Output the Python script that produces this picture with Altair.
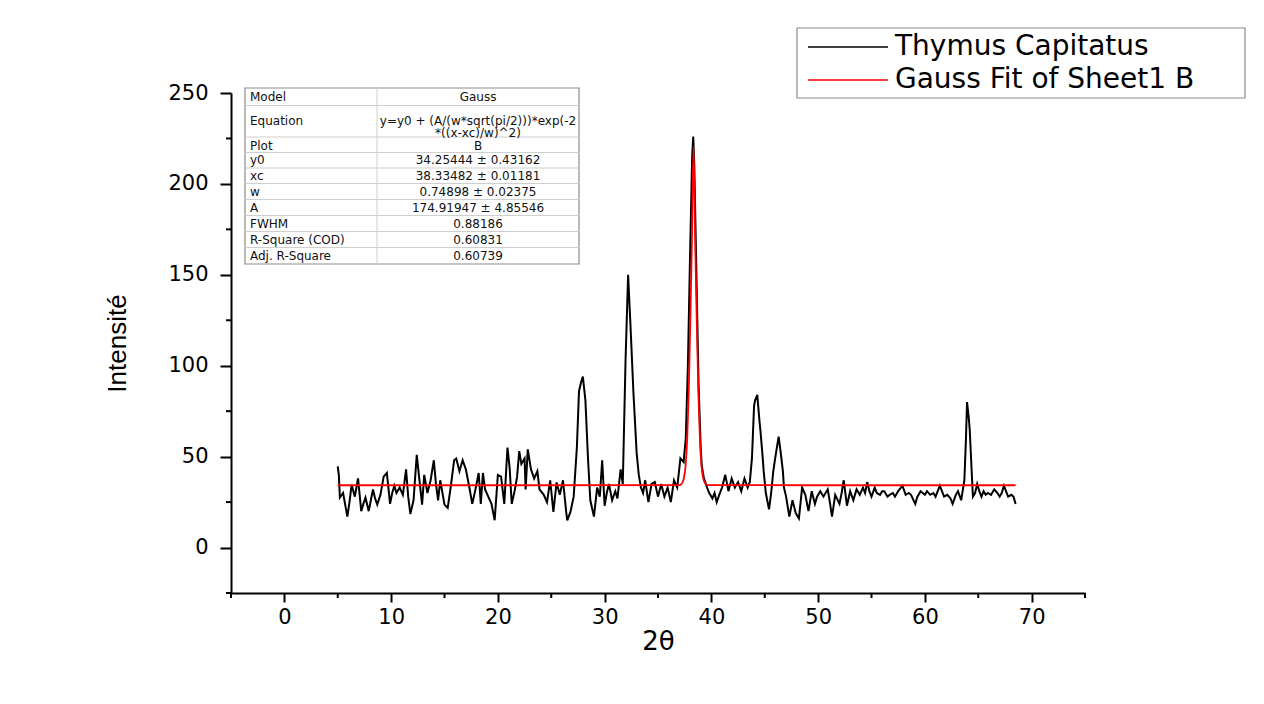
import altair as alt
import pandas as pd

# ---------------- data ----------------
two_theta = [5.0, 5.1, 5.2, 5.5, 5.9, 6.1, 6.3, 6.6, 6.9, 7.2, 7.4, 7.6, 7.9, 8.1, 8.3, 8.5, 8.7, 9.0,
             9.3, 9.6, 9.9, 10.1, 10.3, 10.5, 10.8, 11.1, 11.4, 11.6, 11.8, 12.1, 12.4, 12.6, 12.9,
             13.1, 13.4, 13.7, 14.0, 14.2, 14.4, 14.6, 15.0, 15.3, 15.6, 15.9, 16.1, 16.4, 16.7, 17.0,
             17.3, 17.6, 17.9, 18.2, 18.4, 18.6, 18.8, 19.1, 19.4, 19.7, 20.0, 20.3, 20.6, 20.9, 21.1,
             21.3, 21.6, 21.8, 22.0, 22.2, 22.5, 22.6, 22.8, 23.1, 23.4, 23.7, 23.9, 24.3, 24.6, 24.9,
             25.2, 25.5, 25.8, 26.1, 26.4, 26.5, 26.8, 27.1, 27.4, 27.6, 27.8, 27.96, 28.2, 28.45,
             28.66, 29.0, 29.3, 29.55, 29.77, 30.0, 30.2, 30.4, 30.7, 31.0, 31.2, 31.5, 31.7, 31.96,
             32.2, 32.4, 32.7, 33.0, 33.2, 33.4, 33.6, 33.8, 34.1, 34.4, 34.7, 35.0, 35.3, 35.6, 35.9,
             36.2, 36.5, 36.8, 37.1, 37.4, 37.6, 37.8, 38.0, 38.2, 38.3, 38.4, 38.6, 38.8, 39.0, 39.1,
             39.3, 39.6, 39.8, 40.1, 40.3, 40.5, 40.8, 41.0, 41.3, 41.6, 41.9, 42.2, 42.5, 42.8, 43.1,
             43.4, 43.6, 43.8, 44.0, 44.1, 44.3, 44.5, 44.6, 44.8, 44.9, 45.1, 45.4, 45.6, 45.8, 46.0,
             46.3, 46.5, 46.7, 46.8, 47.0, 47.3, 47.6, 47.9, 48.2, 48.5, 48.8, 49.1, 49.4, 49.7, 49.9,
             50.2, 50.5, 50.9, 51.1, 51.3, 51.6, 52.0, 52.2, 52.4, 52.7, 53.0, 53.3, 53.6, 53.9, 54.2,
             54.4, 54.6, 54.8, 55.0, 55.3, 55.5, 55.8, 56.0, 56.2, 56.5, 56.7, 57.0, 57.2, 57.5, 57.9,
             58.2, 58.5, 58.7, 59.1, 59.3, 59.6, 60.0, 60.2, 60.5, 60.8, 61.0, 61.4, 61.8, 62.1, 62.4,
             62.6, 62.9, 63.1, 63.4, 63.7, 63.85, 63.95, 64.1, 64.2, 64.4, 64.5, 64.7, 64.9, 65.1,
             65.3, 65.5, 65.7, 65.9, 66.2, 66.5, 66.8, 67.0, 67.2, 67.4, 67.6, 67.8, 68.1, 68.3, 68.5]
intensity = [44.7, 40, 27.5, 30, 17, 25, 34.6, 28, 38, 20, 24, 27.5, 20, 26, 32, 27, 23.6, 29,
             39, 41, 24, 30, 34, 30, 33, 29, 43, 28, 18.5, 26, 51, 40, 23.6,
             40, 30, 37, 48, 35, 26, 37, 23.6, 21.8, 34, 48, 49, 42, 48, 43,
             34, 24, 32, 41, 24, 41, 32, 28, 24, 15, 40, 39, 24, 55, 44,
             24, 32, 39, 53, 46, 49, 32, 54, 43, 38, 42, 32, 29, 25, 37,
             19.6, 35.8, 29, 37, 19.6, 15, 19.6, 28, 55, 86, 91, 94, 81, 48,
             26, 17, 33, 28, 48, 23, 30, 35, 26, 31, 27, 43, 35, 103,
             150, 125, 85, 52, 40, 33, 30, 37, 25, 35, 36, 28, 35, 28, 33,
             25, 37, 33, 49, 47, 60, 100, 160, 215, 226, 210, 150, 90, 55, 45,
             38, 33, 30, 27, 30, 25, 30, 33, 40, 31, 38, 33, 36, 31, 38,
             33, 36, 49, 78, 81, 84, 70, 64, 50, 42, 30, 21, 30, 42, 50,
             61, 52, 42, 33, 28, 17, 26, 19, 16, 33, 29, 20, 31, 24, 28,
             31, 28, 32, 25, 17, 29, 24, 30, 37, 23, 31, 26, 32, 29, 33,
             30, 36, 31, 28, 33, 30, 29, 31, 31, 28, 29, 30, 28, 31, 34,
             29, 30, 29, 24, 28, 31, 29, 31, 29, 30, 28, 34, 28, 29, 27,
             24, 29, 31, 26, 37, 60, 80, 72, 65, 40, 28, 30, 35, 31,
             28, 31, 29, 30, 29, 32, 30, 28, 30, 34, 31, 28, 29, 28, 24]

fit_theta = [5.0, 37.0, 37.2, 37.4, 37.58, 37.73, 37.88, 38.03, 38.18, 38.33, 38.48, 38.63,
             38.78, 38.93, 39.08, 39.26, 39.46, 39.7, 68.5]
fit_intensity = [34.25, 34.3, 35.0, 37.5, 44.6, 59.3, 85.9, 124.8, 169.4, 220.6, 169.4, 124.8,
                 85.9, 59.3, 44.6, 37.5, 35.0, 34.3, 34.25]

x_major = [0, 10, 20, 30, 40, 50, 60, 70]
x_minor = [-5, 5, 15, 25, 35, 45, 55, 65, 75]
y_major = [0, 50, 100, 150, 200, 250]
y_minor = [-25, 25, 75, 125, 175, 225]

legend_labels = ["Thymus Capitatus", "Gauss Fit of Sheet1 B"]
legend_colors = ["#000000", "#ff0000"]

table_params = ["Model", "Equation", "Plot", "y0", "xc", "w", "A", "FWHM",
                "R-Square (COD)", "Adj. R-Square"]
table_values = ["Gauss", "y=y0 + (A/(w*sqrt(pi/2)))*exp(-2\n*((x-xc)/w)^2)", "B",
                "34.25444 ± 0.43162", "38.33482 ± 0.01181", "0.74898 ± 0.02375",
                "174.91947 ± 4.85546", "0.88186", "0.60831", "0.60739"]

# ---------------- layout (pixels, relative to plot origin) ----------------
FONT = "DejaVu Sans"
W, H = 854, 500
row_edges = [-5, 12.5, 44, 59.5, 75, 90.5, 106.5, 122.5, 138.5, 154.5, 171]
row_mids = [3.75, 27.5, 52.5, 67.25, 82.75, 98.5, 114.5, 130.5, 146.5, 162.75]
TBL_L, TBL_R, TBL_DIV = 14, 348, 146

scan = pd.DataFrame({"two_theta": two_theta, "intensity": intensity})
fit = pd.DataFrame({"two_theta": fit_theta, "intensity": fit_intensity})

xs = alt.Scale(domain=[-5, 75], nice=False, zero=False)
ys = alt.Scale(domain=[-25, 250], nice=False, zero=False)

x_axis = alt.Axis(values=x_major, title="2θ", titleFontSize=26, titlePadding=1,
                  tickSize=9, labelPadding=4, labelFontSize=21)
y_axis = alt.Axis(values=y_major, title="Intensité", titleFontSize=26, titlePadding=37,
                  titleFont="Liberation Sans", tickSize=11, labelPadding=12, labelFontSize=21)

black = alt.Chart(scan).mark_line(color="#000000", strokeWidth=2).encode(
    x=alt.X("two_theta:Q", scale=xs, axis=x_axis),
    y=alt.Y("intensity:Q", scale=ys, axis=y_axis),
)
red = alt.Chart(fit).mark_line(color="#ff0000", strokeWidth=1.8, interpolate="monotone").encode(
    x=alt.X("two_theta:Q", scale=xs, axis=x_axis),
    y=alt.Y("intensity:Q", scale=ys, axis=y_axis),
)
xminor = alt.Chart(pd.DataFrame({"two_theta": x_minor})).mark_rule(
    color="#000000", strokeWidth=2).encode(
    x=alt.X("two_theta:Q", scale=xs, axis=x_axis), y=alt.value(H), y2=alt.value(H + 5)
)
yminor = alt.Chart(pd.DataFrame({"intensity": y_minor})).mark_rule(
    color="#000000", strokeWidth=2).encode(
    y=alt.Y("intensity:Q", scale=ys, axis=y_axis), x=alt.value(0), x2=alt.value(-5)
)
lines = alt.layer(black, red, xminor, yminor)

# ---------------- parameter table ----------------
tbl = pd.DataFrame({"param": table_params, "value": table_values, "ymid": row_mids})
inner = pd.DataFrame({"yline": row_edges[1:-1]})
one = pd.DataFrame({"k": [0]})

tbl_box = alt.Chart(one).mark_rect(fill="white", stroke="#8c8c8c", strokeWidth=1.2).encode(
    x=alt.value(TBL_L), x2=alt.value(TBL_R), y=alt.value(row_edges[0]), y2=alt.value(row_edges[-1])
)
tbl_rows = alt.Chart(inner).mark_rule(color="#cfcfcf", strokeWidth=1).encode(
    x=alt.value(TBL_L), x2=alt.value(TBL_R), y=alt.Y("yline:Q", scale=None, axis=None)
)
tbl_div = alt.Chart(one).mark_rule(color="#cfcfcf", strokeWidth=1).encode(
    x=alt.value(TBL_DIV), y=alt.value(row_edges[0]), y2=alt.value(row_edges[-1])
)
tbl_params = alt.Chart(tbl).mark_text(align="left", baseline="middle", font=FONT, fontSize=12,
                                       color="#111111").encode(
    x=alt.value(TBL_L + 5), y=alt.Y("ymid:Q", scale=None, axis=None), text="param:N"
)
tbl_vals = alt.Chart(tbl).mark_text(align="center", baseline="middle", font=FONT, fontSize=12,
                                     color="#111111", lineBreak="\n", lineHeight=12).encode(
    x=alt.value((TBL_DIV + TBL_R) / 2), y=alt.Y("ymid:Q", scale=None, axis=None), text="value:N"
)

# ---------------- legend ----------------
leg = pd.DataFrame({"label": legend_labels, "color": legend_colors, "ly": [-46, -13]})
leg_box = alt.Chart(one).mark_rect(fill="white", stroke="#8c8c8c", strokeWidth=1.2).encode(
    x=alt.value(566), x2=alt.value(1014), y=alt.value(-65), y2=alt.value(5)
)
leg_lines = alt.Chart(leg).mark_rule(strokeWidth=1.6).encode(
    x=alt.value(577), x2=alt.value(657), y=alt.Y("ly:Q", scale=None, axis=None),
    color=alt.Color("color:N", scale=None, legend=None),
)
leg_text = alt.Chart(leg).mark_text(align="left", baseline="middle", font=FONT, fontSize=28,
                                     color="#000000").encode(
    x=alt.value(664), y=alt.Y("ly:Q", scale=None, axis=None), text="label:N"
)

chart = alt.layer(
    lines,
    tbl_box, tbl_rows, tbl_div, tbl_params, tbl_vals,
    leg_box, leg_lines, leg_text,
).resolve_scale(x="independent", y="independent").properties(
    width=W, height=H,
    autosize=alt.AutoSizeParams(type="none"),
    padding={"left": 223, "top": 85, "right": 171, "bottom": 103},
    background="white",
).configure_view(stroke=None).configure_axis(
    domainColor="#000000", domainWidth=2, tickColor="#000000", tickWidth=2,
    labelFont=FONT, labelColor="#000000",
    titleFont=FONT, titleColor="#000000", titleFontWeight="normal", grid=False,
)

chart.save("out.html", embed_options={"renderer": "svg", "actions": False})
